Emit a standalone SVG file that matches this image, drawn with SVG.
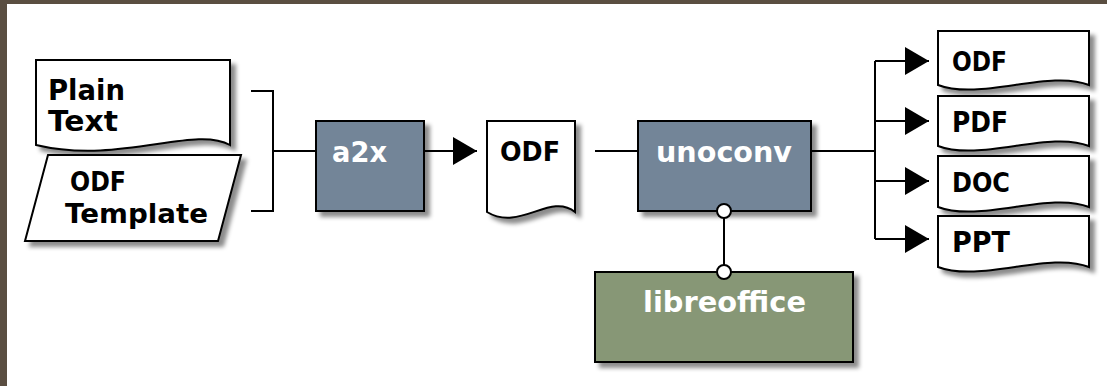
<svg xmlns="http://www.w3.org/2000/svg" width="1107" height="386" viewBox="0 0 1107 386">
<style>
.doc{fill:#fff;stroke:#000;stroke-width:2;filter:url(#sh)}
.proc{stroke:#000;stroke-width:2;filter:url(#sh)}
.blue{fill:#738598}
.green{fill:#879776}
.dt{font-family:"DejaVu Sans","Liberation Sans",sans-serif;font-weight:bold;fill:#000}
.wt{font-family:"DejaVu Sans","Liberation Sans",sans-serif;font-weight:bold;fill:#fff}
.ln{fill:none;stroke:#000;stroke-width:2}
.arr{fill:none;stroke:#000;stroke-width:2;marker-end:url(#ah)}
.dot{fill:#fff;stroke:#000;stroke-width:2}
</style>
<defs>
<filter id="sh" x="-10%" y="-10%" width="130%" height="140%">
<feDropShadow dx="5" dy="5" stdDeviation="2" flood-color="#000" flood-opacity="0.45"/>
</filter>
<marker id="ah" viewBox="0 0 24 28" refX="24" refY="14" markerWidth="24" markerHeight="28" markerUnits="userSpaceOnUse" orient="auto">
<path d="M0,0 L24,14 L0,28 Z" fill="#000"/>
</marker>
</defs>
<rect x="0" y="0" width="1107" height="386" fill="#5a4e41"/>
<rect x="7" y="4" width="1100" height="382" fill="#fff"/>

<g id="plain-text">
<path class="doc" d="M36,60 H230 V145 C194,125 120,165 36,145 Z"/>
<text class="dt" x="48" y="100" font-size="28" textLength="77" lengthAdjust="spacingAndGlyphs">Plain</text>
<text class="dt" x="48" y="131" font-size="28" textLength="70" lengthAdjust="spacingAndGlyphs">Text</text>
</g>

<g id="odf-template">
<path class="doc" d="M48,155 H241 L218,241 H25 Z"/>
<text class="dt" x="70" y="191" font-size="26" textLength="56" lengthAdjust="spacingAndGlyphs">ODF</text>
<text class="dt" x="65" y="223" font-size="26" textLength="143" lengthAdjust="spacingAndGlyphs">Template</text>
</g>

<g id="a2x">
<rect class="proc blue" x="316" y="121" width="108" height="90"/>
<text class="wt" x="332" y="162" font-size="28" textLength="55" lengthAdjust="spacingAndGlyphs">a2x</text>
</g>

<g id="odf-mid">
<path class="doc" d="M487,121 H575 V212 C550,192 520,232 487,212 Z"/>
<text class="dt" x="500" y="161" font-size="27" textLength="60" lengthAdjust="spacingAndGlyphs">ODF</text>
</g>

<g id="unoconv">
<rect class="proc blue" x="638" y="121" width="173" height="90"/>
<text class="wt" x="656" y="162" font-size="29" textLength="136" lengthAdjust="spacingAndGlyphs">unoconv</text>
</g>

<g id="libreoffice">
<rect class="proc green" x="595" y="272" width="258" height="90"/>
<text class="wt" x="643" y="312" font-size="29" textLength="163" lengthAdjust="spacingAndGlyphs">libreoffice</text>
</g>

<g id="out-odf">
<path class="doc" d="M938,31 H1089 V85 C1050,69 980,101 938,85 Z"/>
<text class="dt" x="952" y="71" font-size="26" textLength="55" lengthAdjust="spacingAndGlyphs">ODF</text>
</g>

<g id="out-pdf">
<path class="doc" d="M938,96 H1089 V146 C1050,130 980,162 938,146 Z"/>
<text class="dt" x="952" y="132" font-size="28" textLength="56" lengthAdjust="spacingAndGlyphs">PDF</text>
</g>

<g id="out-doc">
<path class="doc" d="M938,156 H1089 V207 C1050,191 980,223 938,207 Z"/>
<text class="dt" x="952" y="192" font-size="26" textLength="58" lengthAdjust="spacingAndGlyphs">DOC</text>
</g>

<g id="out-ppt">
<path class="doc" d="M938,216 H1089 V267 C1050,251 980,283 938,267 Z"/>
<text class="dt" x="952" y="252" font-size="28" textLength="58" lengthAdjust="spacingAndGlyphs">PPT</text>
</g>

<g id="connectors">
<path class="ln" d="M251,91 H273 V211 H251 M273,151 H316"/>
<path class="arr" d="M424,151 H477"/>
<path class="ln" d="M595,151 H638"/>
<path class="ln" d="M811,151 H875 M875,61 V239"/>
<path class="arr" d="M875,61 H929"/>
<path class="arr" d="M875,121 H929"/>
<path class="arr" d="M875,181 H929"/>
<path class="arr" d="M875,239 H929"/>
<path class="ln" d="M724,211 V272"/>
<circle class="dot" cx="724" cy="211" r="7"/>
<circle class="dot" cx="724" cy="272" r="7"/>
</g>
</svg>
